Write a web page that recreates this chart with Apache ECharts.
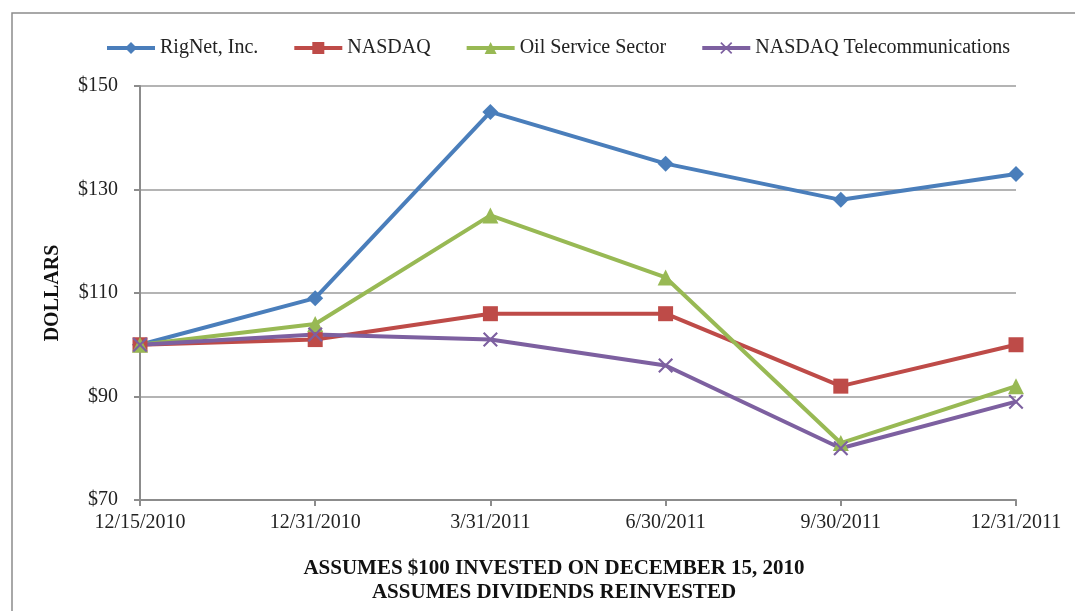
<!DOCTYPE html>
<html>
<head>
<meta charset="utf-8">
<script src="https://cdn.jsdelivr.net/npm/echarts@6/dist/echarts.min.js"></script>
<style>
	html, body { margin: 0; padding: 0; background: #fff; }
	#myChart { width: 1075px; height: 611px; }
</style>
</head>
<body>
<div id="myChart"></div>
<script>
// categories (dates) and values
var dates = ["12/15/2010", "12/31/2010", "3/31/2011", "6/30/2011", "9/30/2011", "12/31/2011"];
var rignet = [100, 109, 145, 135, 128, 133];
var nasdaq = [100, 101, 106, 106, 92, 100];
var oilService = [100, 104, 125, 113, 81, 92];
var nasdaqTelecom = [100, 102, 101, 96, 80, 89];
var yTicks = [70, 90, 110, 130, 150];

var serif = "'Liberation Serif', 'Times New Roman', serif";
// x marker drawn as filled shape
var crossSymbol = "path://M0,1L1,0L5,4L9,0L10,1L6,5L10,9L9,10L5,6L1,10L0,9L4,5Z";

function makeSeries(name, data, color, symbol, size) {
	return {
		name: name,
		type: "line",
		data: data,
		symbol: symbol,
		symbolSize: size,
		lineStyle: { color: color, width: 4 },
		itemStyle: { color: color },
		z: 2,
	};
}

var myChart = echarts.init(document.getElementById("myChart"));
myChart.setOption({
	animation: false,
	backgroundColor: "#fff",
	legend: {
		top: 33,
		left: 100,
		itemWidth: 48,
		itemHeight: 15,
		itemGap: 34,
		lineStyle: { width: 4 },
		textStyle: { fontFamily: serif, fontSize: 20, color: "#222" },
		data: ["RigNet, Inc.", "NASDAQ", "Oil Service Sector", "NASDAQ Telecommunications"],
	},
	grid: { left: 140, right: 59, top: 86, bottom: 111 },
	xAxis: {
		type: "category",
		boundaryGap: false,
		data: dates,
		axisLine: { lineStyle: { color: "#8c8c8c", width: 2 } },
		axisTick: { show: true, length: 6, lineStyle: { color: "#8c8c8c", width: 2 } },
		axisLabel: { fontFamily: serif, fontSize: 20, color: "#222", margin: 13 },
	},
	yAxis: {
		type: "value",
		min: 70,
		max: 150,
		interval: 20,
		name: "DOLLARS",
		nameLocation: "middle",
		nameRotate: 90,
		nameGap: 77,
		nameTextStyle: { fontFamily: serif, fontSize: 20, fontWeight: "bold", color: "#111" },
		axisLine: { show: true, lineStyle: { color: "#8c8c8c", width: 2 } },
		axisTick: { show: true, length: 6, lineStyle: { color: "#8c8c8c", width: 2 } },
		splitLine: { lineStyle: { color: "#b4b4b4", width: 2 } },
		axisLabel: {
			fontFamily: serif,
			fontSize: 20,
			color: "#222",
			margin: 22,
			formatter: function (v) {
				return yTicks.indexOf(v) >= 0 ? "$" + v : "";
			},
		},
	},
	graphic: [
		{
			type: "rect",
			shape: { x: 12, y: 13, width: 1100, height: 700 },
			style: { fill: null, stroke: "#8c8c8c", lineWidth: 1.5 },
			silent: true,
			z: -1,
		},
		{
			type: "text",
			x: 554,
			y: 557,
			style: {
				text: "ASSUMES $100 INVESTED ON DECEMBER 15, 2010\nASSUMES DIVIDENDS REINVESTED",
				font: "bold 21px " + serif,
				fill: "#111",
				textAlign: "center",
				lineHeight: 24,
			},
		},
	],
	series: [
		makeSeries("RigNet, Inc.", rignet, "#4a7ebb", "diamond", 16),
		makeSeries("NASDAQ", nasdaq, "#be4b48", "rect", 15),
		makeSeries("Oil Service Sector", oilService, "#98b954", "triangle", 16),
		makeSeries("NASDAQ Telecommunications", nasdaqTelecom, "#7d60a0", crossSymbol, 15),
	],
});
</script>
</body>
</html>
